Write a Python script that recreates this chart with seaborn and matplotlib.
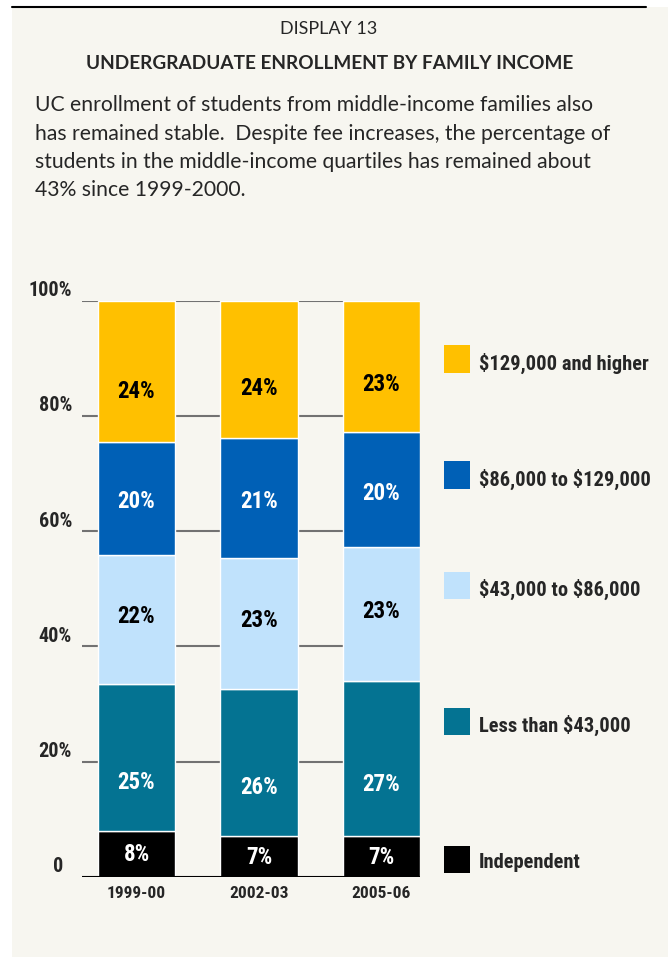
import numpy as np
import pandas as pd
import matplotlib.pyplot as plt
import seaborn as sns
from matplotlib.patches import Rectangle
from matplotlib.lines import Line2D
from matplotlib import font_manager

years = ["1999-00", "2002-03", "2005-06"]
groups = ["Independent", "Less than $43,000", "$43,000 to $86,000",
          "$86,000 to $129,000", "$129,000 and higher"]
# heights of each stacked segment (percent)
independent = [7.9, 7.1, 7.1]
under_43k = [25.6, 25.5, 26.9]
from_43k_86k = [22.4, 22.7, 23.2]
from_86k_129k = [19.6, 20.8, 20.0]
over_129k = [24.5, 23.9, 22.8]
# printed labels
lbl_independent = [8, 7, 7]
lbl_under_43k = [25, 26, 27]
lbl_43k_86k = [22, 23, 23]
lbl_86k_129k = [20, 21, 20]
lbl_over_129k = [24, 24, 23]
yticks = [0, 20, 40, 60, 80, 100]

heights = [independent, under_43k, from_43k_86k, from_86k_129k, over_129k]
labels = [lbl_independent, lbl_under_43k, lbl_43k_86k, lbl_86k_129k, lbl_over_129k]
colors = ["#000000", "#047392", "#C0E2FC", "#0060B6", "#FFC000"]
text_colors = ["white", "white", "black", "white", "black"]
label_frac = [0.48, 0.33, 0.52, 0.47, 0.36]  # where the number sits inside its segment

sns.set_style("white")
names = {f.name for f in font_manager.fontManager.ttflist}
head = "Lato" if "Lato" in names else "DejaVu Sans"

# the chart lettering is a narrow bold grotesque; use a narrow face if there is one
narrow = None
for want in ["Roboto Condensed", "Liberation Sans Narrow", "Arial Narrow", "Noto Sans Condensed",
             "Open Sans Condensed"]:
    if want in names:
        narrow = want
        break
if narrow:
    plt.rcParams["font.family"] = [narrow, "DejaVu Sans"]
    k = 1.0
else:
    plt.rcParams["font.family"] = ["Liberation Sans", "DejaVu Sans"]
    k = 0.86

W, H = 668, 957
fig = plt.figure(figsize=(W / 100, H / 100), dpi=100)
fig.patch.set_facecolor("white")


def fx(x):
    return x / W


def fy(y):
    return 1 - y / H


# off-white panel and top rule
fig.add_artist(Rectangle((fx(12), 0), 1 - fx(12), fy(7), transform=fig.transFigure,
                         facecolor="#F7F6F0", edgecolor="none", zorder=-10))
fig.add_artist(Line2D([fx(12), fx(646)], [fy(6.5), fy(6.5)], transform=fig.transFigure,
                      color="black", lw=1.5))

# header
fig.text(fx(329), fy(34), "DISPLAY 13", family=head, fontsize=13, ha="center", va="baseline")
fig.text(fx(330), fy(69), "UNDERGRADUATE ENROLLMENT BY FAMILY INCOME", family=head,
         fontweight="bold", fontsize=13.7, ha="center", va="baseline")
para = ["UC enrollment of students from middle-income families also",
        "has remained stable.  Despite fee increases, the percentage of",
        "students in the middle-income quartiles has remained about",
        "43% since 1999-2000."]
for i, line in enumerate(para):
    fig.text(fx(35), fy(111 + i * 28.5), line, family=head, fontsize=15.2,
             ha="left", va="baseline")

# chart
ax = fig.add_axes([fx(82), fy(876.7), fx(420) - fx(82), (876.7 - 300.7) / H])
ax.set_facecolor("none")
ax.set_ylim(0, 100)
for v in yticks[1:]:
    ax.axhline(v, color="#727272", lw=1.5, zorder=0)

bottom = np.zeros(len(years))
for h, c in zip(heights, colors):
    df = pd.DataFrame({"year": years, "pct": h})
    sns.barplot(data=df, x="year", y="pct", color=c, width=0.633, bottom=bottom,
                ax=ax, saturation=1, zorder=2)
    bottom = bottom + np.array(h)

bottom = np.zeros(len(years))
for h, lab, tc, fr in zip(heights, labels, text_colors, label_frac):
    for i in range(len(years)):
        ax.text(i, bottom[i] + fr * h[i], f"{lab[i]}%", color=tc, fontsize=16.5 * k,
                fontweight="bold", ha="center", va="center", zorder=3)
    bottom = bottom + np.array(h)

ax.set_xlim(-0.445, 2.314)
ax.axhline(0, color="black", lw=1.5, zorder=4)
for s in ax.spines.values():
    s.set_visible(False)
ax.set_xlabel("")
ax.set_ylabel("")
ax.set_yticks([])
ax.tick_params(axis="x", length=0, pad=7)
for t in ax.get_xticklabels():
    t.set_fontsize(12.5 * k)
    t.set_fontweight("bold")

for v in yticks:
    if v == 0:
        ax.annotate("0", xy=(0, v), xycoords=("axes fraction", "data"), xytext=(-24, 10),
                    textcoords="offset pixels", ha="center", va="center",
                    fontsize=14.5 * k, fontweight="bold")
    else:
        ax.annotate(f"{v}%", xy=(0, v), xycoords=("axes fraction", "data"), xytext=(-10, 10),
                    textcoords="offset pixels", ha="right", va="center",
                    fontsize=14.5 * k, fontweight="bold")

# legend, top to bottom
leg_y = [359, 475, 585, 721, 859]
for g, c, y in zip(groups[::-1], colors[::-1], leg_y):
    fig.add_artist(Rectangle((fx(444), fy(y + 13.5)), 26 / W, 27 / H, transform=fig.transFigure,
                             facecolor=c, edgecolor="none"))
    fig.text(fx(479), fy(y + 4), g, fontsize=14.8 * k, fontweight="bold", ha="left",
             va="center", parse_math=False)

fig.savefig("out.png", dpi=100)
